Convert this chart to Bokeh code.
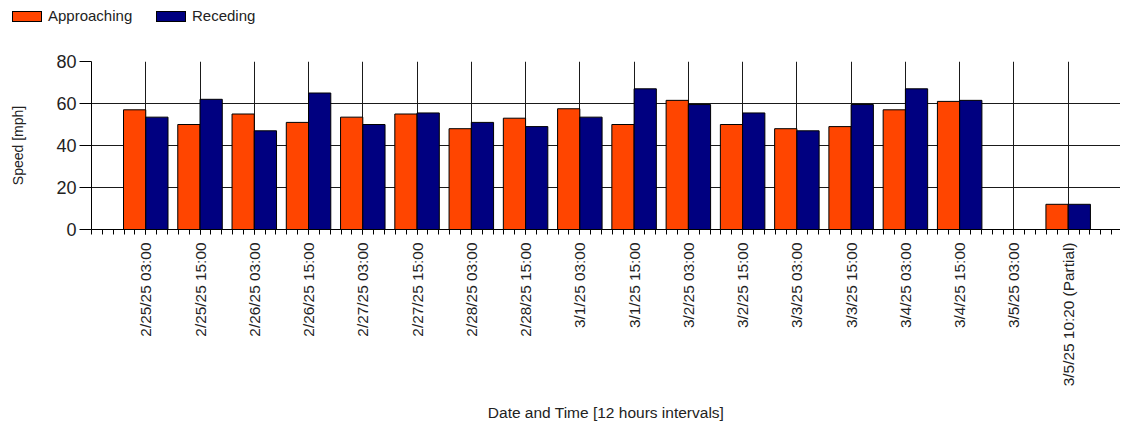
import math
import numpy as np
from bokeh.plotting import figure
from bokeh.layouts import column
from bokeh.models import ColumnDataSource, FixedTicker, Range1d, Div
from bokeh.transform import dodge
from bokeh.embed import file_html
from bokeh.resources import INLINE

labels = ["2/25/25 03:00", "2/25/25 15:00", "2/26/25 03:00", "2/26/25 15:00",
          "2/27/25 03:00", "2/27/25 15:00", "2/28/25 03:00", "2/28/25 15:00",
          "3/1/25 03:00", "3/1/25 15:00", "3/2/25 03:00", "3/2/25 15:00",
          "3/3/25 03:00", "3/3/25 15:00", "3/4/25 03:00", "3/4/25 15:00",
          "3/5/25 03:00", "3/5/25 10:20 (Partial)"]
approaching = [57, 50, 55, 51, 53.5, 55, 48, 53, 57.5, 50, 61.5, 50, 48, 49, 57, 61, np.nan, 12]
receding = [53.5, 62, 47, 65, 50, 55.5, 51, 49, 53.5, 67, 59.5, 55.5, 47, 59.5, 67, 61.5, np.nan, 12]
series_names = ["Approaching", "Receding"]
series_colors = ["#FF4500", "#000080"]
y_ticks = [0, 20, 40, 60, 80]

idx = list(range(len(labels)))
src = ColumnDataSource(dict(idx=idx, app=approaching, rec=receding))

FONT = "Liberation Sans"
TXT = "#222222"

W, H = 1120, 425
LEG_H = 30
LEFT, TOP, FH = 91, 61 - LEG_H, 168

# ---- legend strip (HTML) ----
items_html = ""
for i, (n, c) in enumerate(zip(series_names, series_colors)):
    label_w = "min-width:88px;margin-right:20px;" if i == 0 else ""
    items_html += (f'<span style="display:inline-block;width:30px;height:11px;background:{c};'
                   f'border:1px solid #000;vertical-align:middle"></span>'
                   f'<span style="display:inline-block;margin-left:6px;vertical-align:middle;{label_w}">{n}</span>')
legend_div = Div(text=f'<div style="font-family:\'{FONT}\';font-size:15px;color:{TXT};'
                      f'line-height:16px;white-space:nowrap;padding:7px 0 0 12px;margin:0">{items_html}</div>',
                 width=W, height=LEG_H, margin=(0, 0, 0, 0))

# ---- main chart ----
p = figure(width=W, height=H - LEG_H, output_backend="svg", toolbar_location=None,
           x_range=Range1d(-1, -1 + (W - LEFT) / 54.26), y_range=Range1d(0, 80),
           min_border_left=LEFT, min_border_right=0, min_border_top=TOP,
           min_border_bottom=H - LEG_H - TOP - FH, margin=(0, 0, 0, 0))
p.outline_line_color = None
p.background_fill_color = "white"

bw = 0.41
p.vbar(x=dodge("idx", -bw / 2), top="app", width=bw, source=src,
       fill_color=series_colors[0], line_color="black", line_width=1)
p.vbar(x=dodge("idx", bw / 2), top="rec", width=bw, source=src,
       fill_color=series_colors[1], line_color="black", line_width=1)

xa = p.xaxis[0]
xa.ticker = FixedTicker(ticks=idx, minor_ticks=list(np.round(np.arange(-1, len(labels) + 1, 0.2), 2)))
xa.major_label_overrides = {i: l for i, l in enumerate(labels)}
xa.major_label_orientation = math.pi / 2
xa.major_label_text_font = FONT
xa.major_label_text_font_size = "15.4px"
xa.major_label_text_color = TXT
xa.major_label_standoff = 8
xa.major_tick_out = 5
xa.major_tick_in = 0
xa.minor_tick_out = 5
xa.minor_tick_in = 0
xa.axis_label = "Date and Time [12 hours intervals]"
xa.axis_label_text_font = FONT
xa.axis_label_text_font_size = "15.5px"
xa.axis_label_text_font_style = "normal"
xa.axis_label_text_color = TXT
xa.axis_label_standoff = 15
xa.axis_line_color = "black"
xa.major_tick_line_color = "black"
xa.minor_tick_line_color = "black"

ya = p.yaxis[0]
ya.ticker = FixedTicker(ticks=y_ticks)
ya.major_label_text_font = FONT
ya.major_label_text_font_size = "18px"
ya.major_label_text_color = TXT
ya.major_label_standoff = 3
ya.major_tick_out = 12
ya.major_tick_in = 0
ya.minor_tick_out = 0
ya.minor_tick_in = 0
ya.axis_label = "Speed [mph]"
ya.axis_label_text_font = FONT
ya.axis_label_text_font_size = "14px"
ya.axis_label_text_font_style = "normal"
ya.axis_label_text_color = TXT
ya.axis_label_standoff = 27
ya.axis_line_color = "black"
ya.major_tick_line_color = "black"

p.xgrid.ticker = FixedTicker(ticks=idx + [len(labels)])
p.ygrid.ticker = FixedTicker(ticks=y_ticks)
for g in (p.xgrid[0], p.ygrid[0]):
    g.grid_line_color = "#1a1a1a"
    g.grid_line_width = 1
    g.grid_line_alpha = 1

layout = column(legend_div, p, spacing=0)
open("out.html", "w").write(file_html(layout, INLINE))
